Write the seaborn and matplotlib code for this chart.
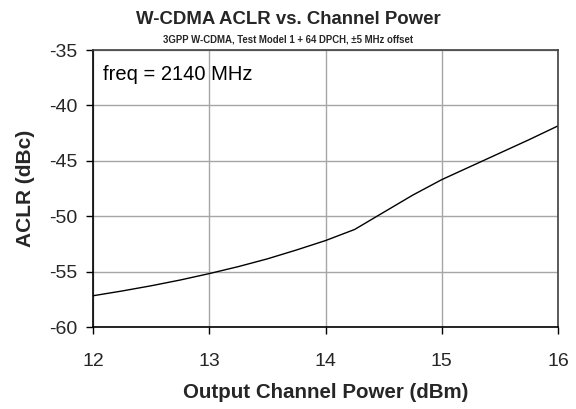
import matplotlib
matplotlib.use("Agg")
import matplotlib.pyplot as plt
import seaborn as sns
import pandas as pd

power_dbm = [12.0, 12.25, 12.5, 12.75, 13.0, 13.25, 13.5, 13.75, 14.0,
             14.25, 14.5, 14.75, 15.0, 15.25, 15.5, 15.75, 16.0]
aclr_dbc = [-57.18, -56.75, -56.28, -55.76, -55.18, -54.55, -53.85, -53.05, -52.2,
            -51.2, -49.65, -48.1, -46.7, -45.5, -44.3, -43.1, -41.85]
x_ticks = [12, 13, 14, 15, 16]
y_ticks = [-60, -55, -50, -45, -40, -35]

sns.set_theme(style="white")
plt.rcParams['font.family'] = ['Liberation Sans', 'DejaVu Sans']

df = pd.DataFrame({"power": power_dbm, "aclr": aclr_dbc})

fig = plt.figure(figsize=(5.76, 4.09), dpi=100)
ax = fig.add_axes([93/576, 1 - 327/409, (558-93)/576, (327-50)/409])

sns.lineplot(data=df, x="power", y="aclr", ax=ax, color="black", linewidth=1.0)

ax.set_xlim(12, 16)
ax.set_ylim(-60, -35)
ax.set_xticks(x_ticks)
ax.set_yticks(y_ticks)
ax.set_xticklabels([str(t) for t in x_ticks], fontsize=14)
ax.set_yticklabels([str(t) for t in y_ticks], fontsize=14)
ax.grid(True, color="#a6a6a6", linewidth=1.0)
ax.set_axisbelow(True)
for s in ["left", "bottom"]:
    ax.spines[s].set_color("black")
    ax.spines[s].set_linewidth(1.2)
for s in ["top", "right"]:
    ax.spines[s].set_color("#404040")
    ax.spines[s].set_linewidth(1.2)
ax.tick_params(axis="both", which="major", direction="out", length=5, width=1,
               color="black", left=True, bottom=True)
ax.tick_params(axis="x", pad=14)
ax.tick_params(axis="y", pad=6)

ax.set_xlabel("Output Channel Power (dBm)", fontsize=14.8, fontweight="bold", labelpad=9)
ax.set_ylabel("ACLR (dBc)", fontsize=15, fontweight="bold", labelpad=10)

ax.text(0.022, 0.91, "freq = 2140 MHz", transform=ax.transAxes, fontsize=14.5,
        ha="left", va="center", color="black")

fig.text(0.5, 1 - 19/409, "W-CDMA ACLR vs. Channel Power",
         ha="center", va="center", fontsize=13.4, fontweight="bold")
fig.text(0.5, 1 - 39/409,
         "3GPP W-CDMA, Test Model 1 + 64 DPCH, \u00b15 MHz offset",
         ha="center", va="center", fontsize=6.9, fontweight="bold")

fig.savefig("out.png", dpi=100)
